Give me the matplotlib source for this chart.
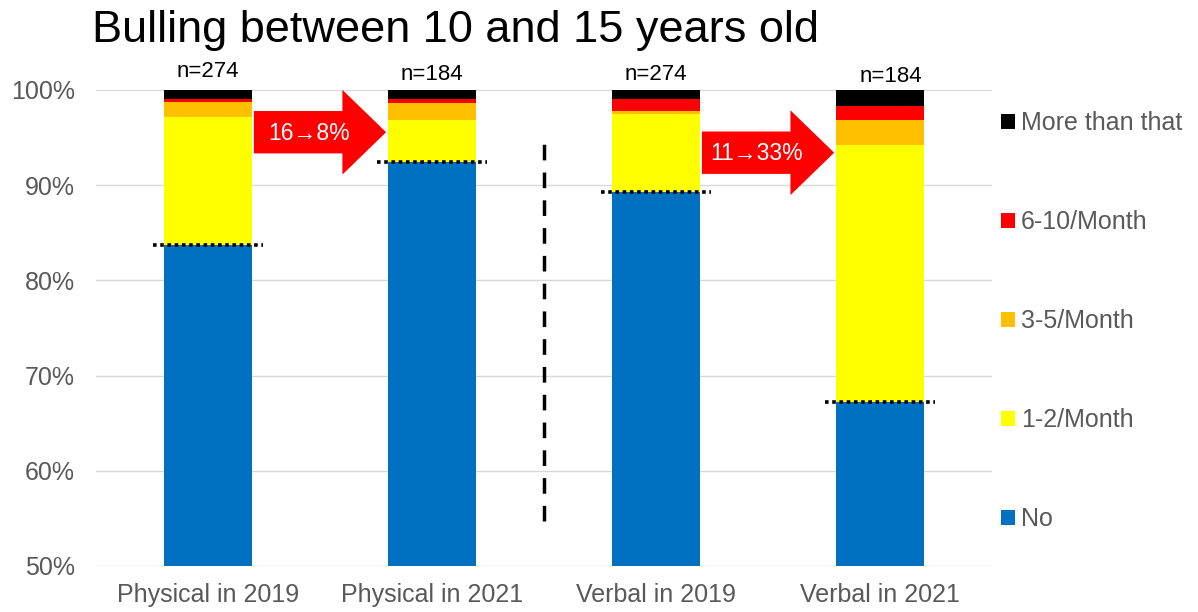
import matplotlib
matplotlib.use("Agg")
import matplotlib.pyplot as plt
from matplotlib.patches import FancyArrow, Patch
import numpy as np

plt.rcParams["font.family"] = ["Liberation Sans", "DejaVu Sans"]

CATEGORIES = ["Physical in 2019", "Physical in 2021", "Verbal in 2019", "Verbal in 2021"]
SAMPLE_SIZES = [274, 184, 274, 184]

# share of answers (%) per frequency, stacked bottom to top
SERIES = ["No", "1-2/Month", "3-5/Month", "6-10/Month", "More than that"]
NO = [83.7, 92.4, 89.3, 67.2]
ONE_TWO = [13.5, 4.45, 8.2, 27.0]
THREE_FIVE = [1.5, 1.75, 0.3, 2.6]
SIX_TEN = [0.3, 0.4, 1.2, 1.5]
MORE = [1.0, 1.0, 1.0, 1.7]
COLORS = ["#0070C0", "#FFFF00", "#FFC000", "#FF0000", "#000000"]

# change in "any bullying" between survey years
CHANGE_LABELS = ["16\u21928%", "11\u219233%"]
CHANGE_FROM = [0, 2]
CHANGE_Y = [95.55, 93.4]

GRAY = "#595959"
BAR_W = 0.39

fig = plt.figure(figsize=(11.98, 6.12), dpi=100)
ax = fig.add_axes([0.0801, 0.0752, 0.748, 0.778])

x = np.arange(len(CATEGORIES))
bottom = np.zeros(len(CATEGORIES))
for vals, color in zip([NO, ONE_TWO, THREE_FIVE, SIX_TEN, MORE], COLORS):
    ax.bar(x, vals, BAR_W, bottom=bottom, color=color, zorder=2)
    bottom += np.array(vals)

ax.set_ylim(50, 100)
ax.set_xlim(-0.5, len(CATEGORIES) - 0.5)

# dotted marker at the top of the "No" segment
for xi, v in zip(x, NO):
    ax.plot([xi - BAR_W / 2 - 0.05, xi + BAR_W / 2 + 0.05], [v, v],
            color="black", lw=2.6, ls=(0, (1, 1)), zorder=4, solid_capstyle="butt")

for xi, n, v in zip(x, SAMPLE_SIZES, [100.85, 100.55, 100.55, 100.25]):
    ax.text(xi + (0.05 if xi == 3 else 0), v, f"n={n}", ha="center", va="bottom",
            fontsize=16, color="black", clip_on=False)

# physical | verbal separator
ax.plot([1.5, 1.5], [54.7, 94.8], color="black", lw=2.5, ls=(0, (4.5, 3.5)), zorder=3)

for lab, i0, yc in zip(CHANGE_LABELS, CHANGE_FROM, CHANGE_Y):
    x0 = i0 + BAR_W / 2 + 0.01
    x1 = i0 + 1 - BAR_W / 2 - 0.01
    ax.add_patch(FancyArrow(x0, yc, x1 - x0, 0, width=4.45, head_width=8.9,
                            head_length=0.195, length_includes_head=True,
                            color="#FF0000", lw=0, zorder=5))
    ax.text(x0 + 0.245, yc - 0.1, lab, ha="center", va="center", fontsize=16.5,
            color="white", zorder=6)

ax.set_xticks(x)
ax.set_xticklabels(CATEGORIES, fontsize=18, color=GRAY)
ax.set_yticks(np.arange(50, 101, 10))
ax.set_yticklabels([f"{v}%" for v in range(50, 101, 10)], fontsize=18, color=GRAY)
ax.tick_params(axis="y", length=0, pad=15)
ax.tick_params(axis="x", length=0, pad=12)
ax.grid(axis="y", color="#D9D9D9", lw=1, zorder=0)
for s in ax.spines.values():
    s.set_visible(False)

handles = [Patch(facecolor=c, label=s) for s, c in zip(SERIES, COLORS)][::-1]
ax.legend(handles=handles, loc="upper left", bbox_to_anchor=(0.993, 0.987),
          frameon=False, fontsize=18, labelcolor=GRAY, handlelength=0.55,
          handleheight=0.55, handletextpad=0.25, labelspacing=3.0,
          borderaxespad=0.2)

fig.text(0.077, 0.95, "Bulling between 10 and 15 years old", fontsize=32.5,
         ha="left", va="center", color="black")

fig.savefig("out.png", dpi=100)
